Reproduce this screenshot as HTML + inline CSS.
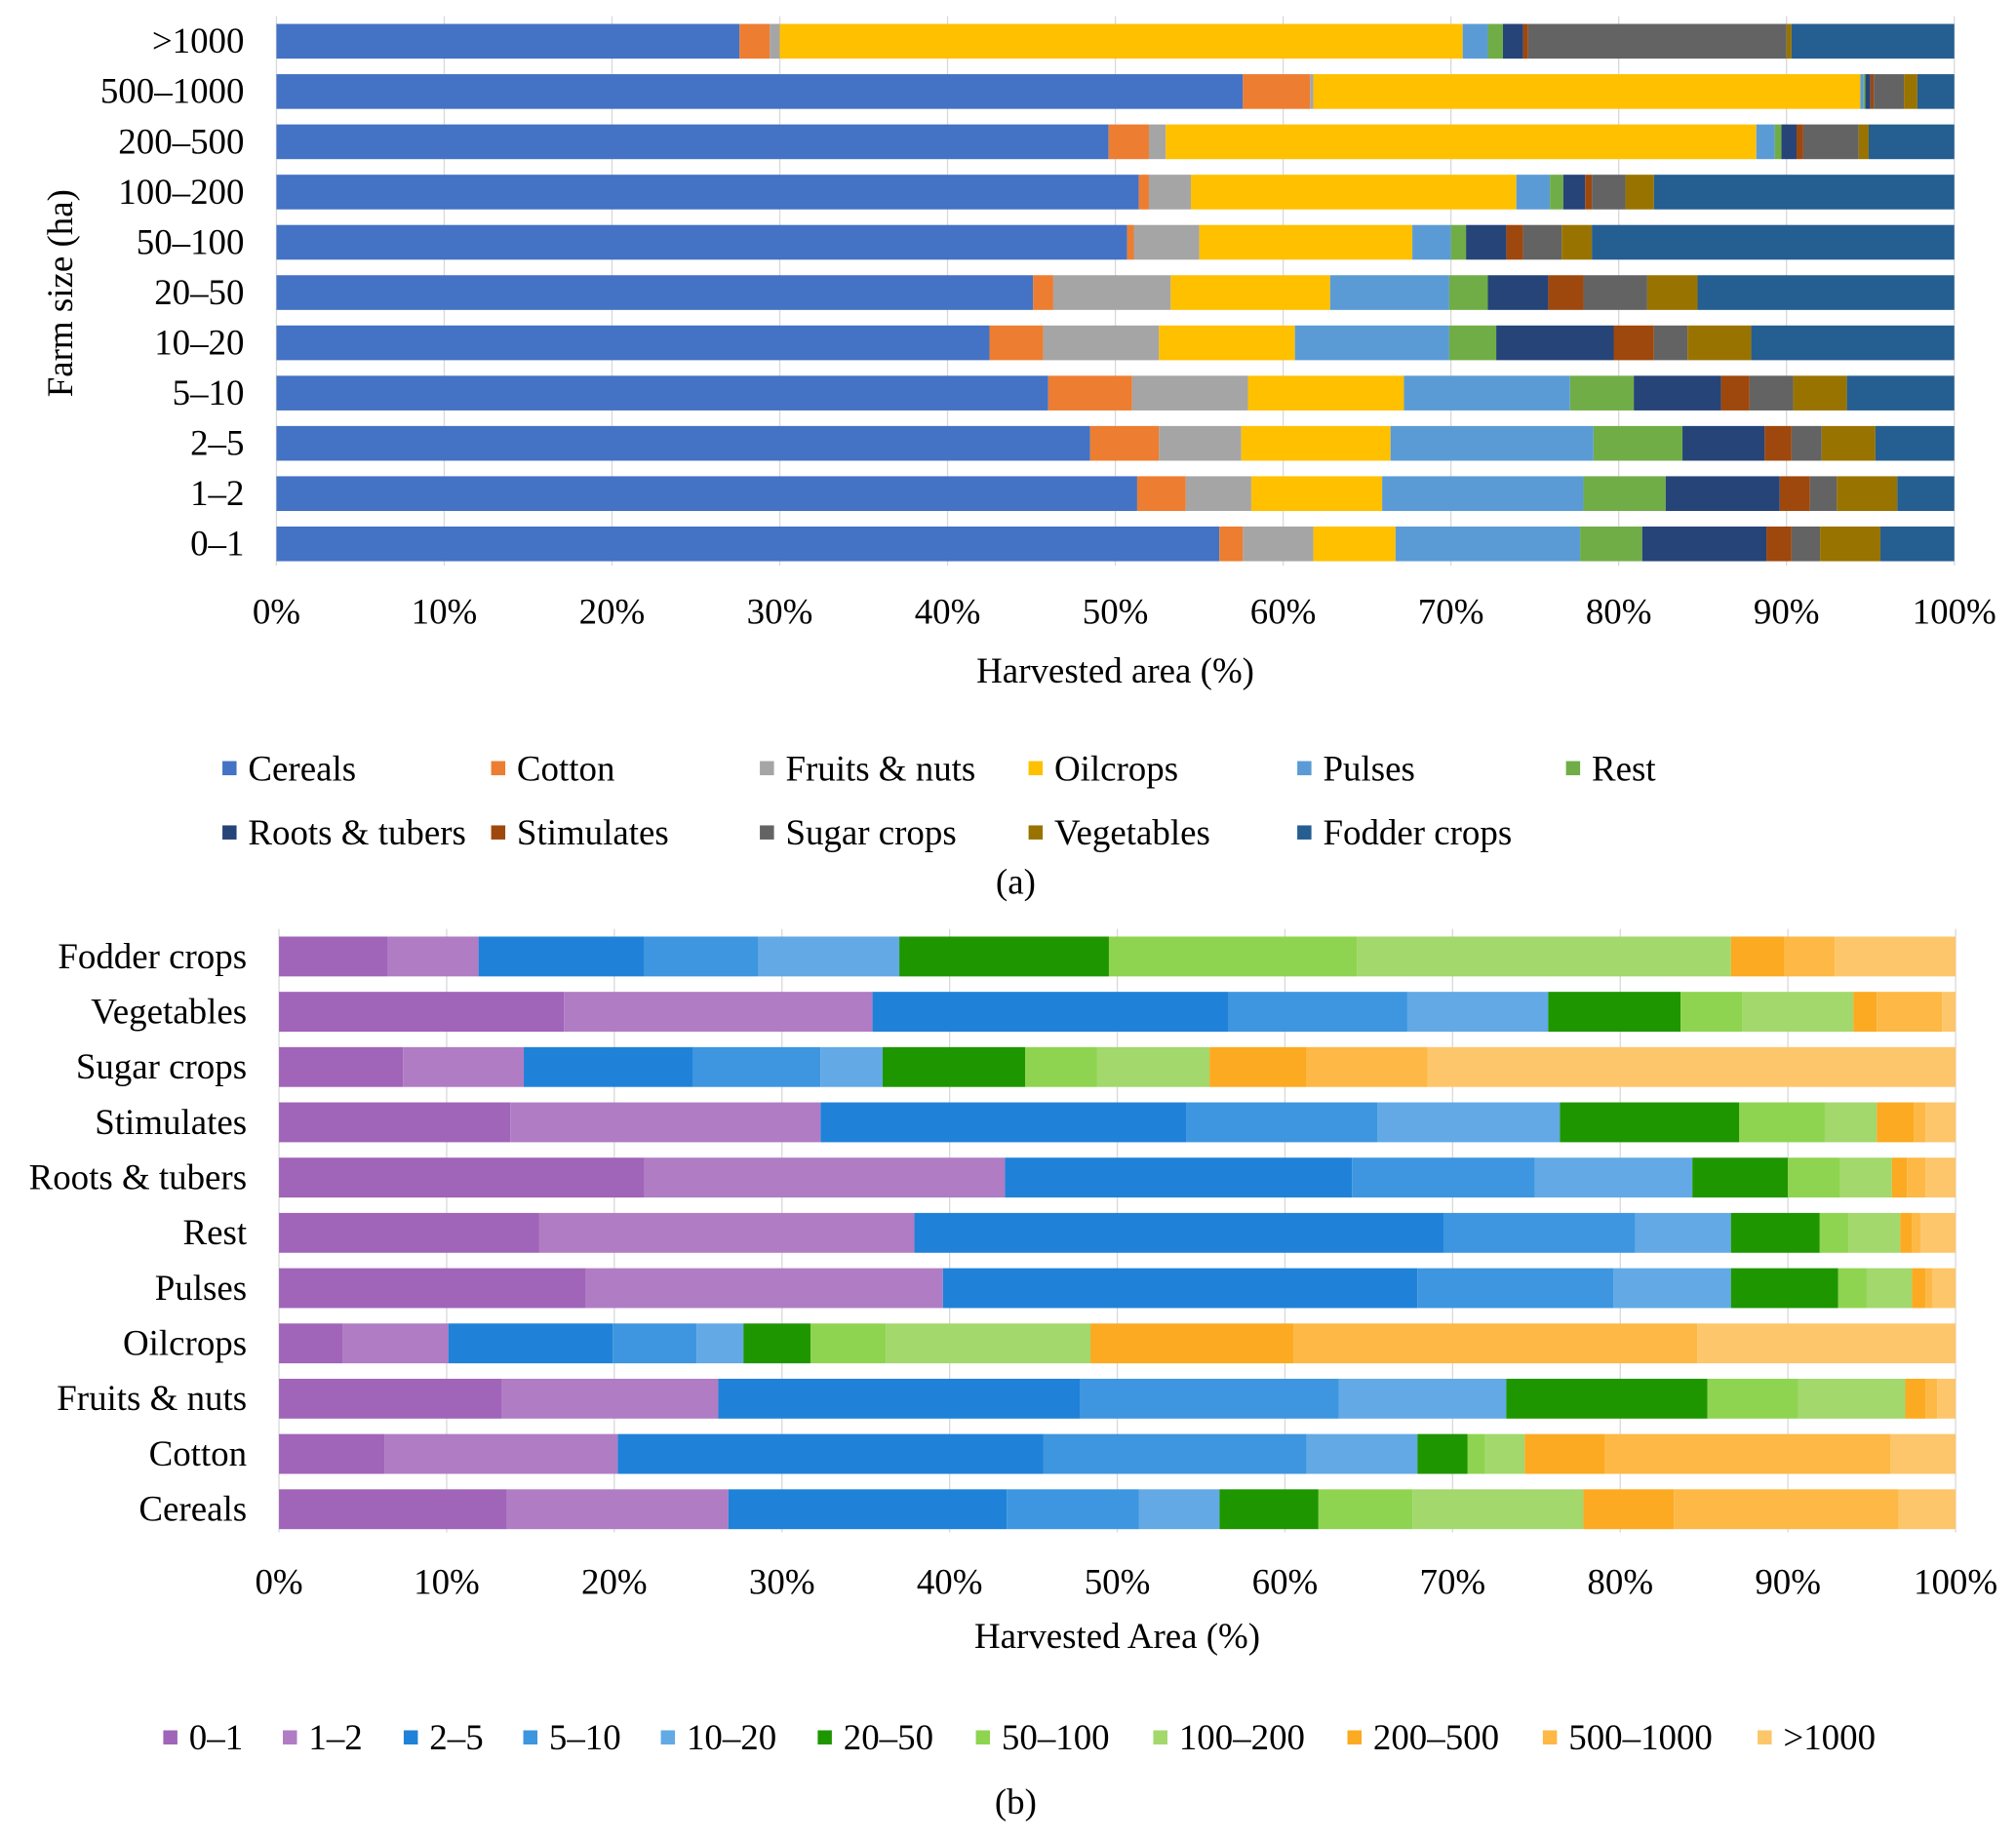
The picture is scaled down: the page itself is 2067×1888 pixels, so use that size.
<!DOCTYPE html>
<html><head><meta charset="utf-8"><style>
html,body{margin:0;padding:0;background:#fff;}
svg{display:block;font-family:"Liberation Serif",serif;}
</style></head><body>
<svg id="chart" width="2067" height="1888" viewBox="0 0 1568 1432" xmlns="http://www.w3.org/2000/svg">
<g id="ga"></g>
<g id="gb"></g>
</svg>
<script>
const NS="http://www.w3.org/2000/svg";
// ---- Chart (a) data ----
const aCategories=[">1000","500–1000","200–500","100–200","50–100","20–50","10–20","5–10","2–5","1–2","0–1"];
const aSeriesNames=["Cereals","Cotton","Fruits & nuts","Oilcrops","Pulses","Rest","Roots & tubers","Stimulates","Sugar crops","Vegetables","Fodder crops"];
const aShares=[
[27.6,1.8,0.6,40.7,1.5,0.9,1.2,0.3,15.4,0.3,9.7],
[57.6,4.0,0.2,32.6,0.2,0.1,0.3,0.2,1.8,0.8,2.2],
[49.6,2.4,1.0,35.2,1.1,0.4,0.9,0.4,3.3,0.6,5.1],
[51.4,0.6,2.5,19.4,2.0,0.8,1.3,0.4,2.0,1.7,17.9],
[50.7,0.4,3.9,12.7,2.3,0.9,2.4,1.0,2.3,1.8,21.6],
[45.1,1.2,7.0,9.5,7.1,2.3,3.6,2.1,3.8,3.0,15.3],
[42.5,3.2,6.9,8.1,9.2,2.8,7.0,2.4,2.0,3.8,12.1],
[46.0,5.0,6.9,9.3,9.9,3.8,5.2,1.7,2.6,3.2,6.4],
[48.5,4.1,4.9,8.9,12.1,5.3,4.9,1.6,1.8,3.2,4.7],
[51.3,2.9,3.9,7.8,12.0,4.9,6.8,1.8,1.6,3.6,3.4],
[56.2,1.4,4.2,4.9,11.0,3.7,7.4,1.5,1.7,3.6,4.4]];
const aColors=["#4472C4","#ED7D31","#A5A5A5","#FFC000","#5B9BD5","#70AD47","#264478","#9E480E","#636363","#997300","#255E91"];
// ---- Chart (b) data: cumulative boundaries (%) ----
const bCategories=["Fodder crops","Vegetables","Sugar crops","Stimulates","Roots & tubers","Rest","Pulses","Oilcrops","Fruits & nuts","Cotton","Cereals"];
const bSeriesNames=["0–1","1–2","2–5","5–10","10–20","20–50","50–100","100–200","200–500","500–1000",">1000"];
const bCumulative=[
[6.5,11.9,21.8,28.6,37.0,49.5,64.3,86.6,89.8,92.8,100],
[17.0,35.4,56.6,67.3,75.7,83.6,87.3,93.9,95.3,99.2,100],
[7.4,14.6,24.7,32.3,36.0,44.5,48.8,55.5,61.3,68.5,100],
[13.8,32.3,54.1,65.5,76.4,87.1,92.2,95.3,97.5,98.2,100],
[21.8,43.3,64.0,74.9,84.3,90.0,93.1,96.2,97.1,98.2,100],
[15.5,37.9,69.5,80.9,86.6,91.9,93.6,96.7,97.4,97.9,100],
[18.3,39.6,67.9,79.6,86.6,93.0,94.7,97.4,98.2,98.6,100],
[3.8,10.1,19.9,24.9,27.7,31.7,36.2,48.4,60.5,84.6,100],
[13.3,26.2,47.8,63.2,73.2,85.2,90.6,97.0,98.2,98.9,100],
[6.3,20.2,45.6,61.3,67.9,70.9,71.9,74.3,79.1,96.1,100],
[13.6,26.8,43.4,51.3,56.1,62.0,67.6,77.8,83.2,96.6,100]];
const bColors=["#A064B8","#B07CC4","#1F82D8","#3D96DF","#62A9E6","#1E9600","#8ED450","#A2D86C","#FBAA22","#FDB845","#FDC66A"];
const ticks=["0%","10%","20%","30%","40%","50%","60%","70%","80%","90%","100%"];
const FS=28;

function mk(p,tag,attrs,txt){const e=document.createElementNS(NS,tag);for(const k in attrs)e.setAttribute(k,attrs[k]);if(txt!==undefined)e.textContent=txt;p.appendChild(e);return e;}

function drawChart(g,cfg){
  const xs=v=>cfg.x0+(cfg.x1-cfg.x0)*v/100;
  const ys=i=>cfg.yTop+i*cfg.step;
  for(let t=0;t<=10;t++){
    const gl=mk(g,"line",{x1:xs(t*10),x2:xs(t*10),y1:cfg.yTop-cfg.step/2,y2:cfg.axisY,stroke:"#d9d9d9","stroke-width":1});
    
    
    const tl=mk(g,"text",{x:xs(t*10),y:cfg.tickY,"font-size":FS,"text-anchor":"middle"},ticks[t]);
    
    
  }
  cfg.cats.forEach((c,i)=>{
    const cl=mk(g,"text",{x:cfg.x0-25,y:ys(i)+9,"font-size":FS,"text-anchor":"end"},c);
    
    
    const ends=cfg.ends(i);let prev=0;
    ends.forEach((e,s)=>{
      const r=mk(g,"rect",{x:xs(prev),y:ys(i)-cfg.bh/2,width:Math.max(0,xs(e)-xs(prev)),height:cfg.bh,fill:cfg.colors[s]});
      
      
      prev=e;
    });
  });
  const at=mk(g,"text",{x:(cfg.x0+cfg.x1)/2,y:cfg.titleY,"font-size":FS,"text-anchor":"middle"},cfg.title);
  
  
  cfg.legend.forEach((L,s)=>{
    const lr=mk(g,"rect",{x:L[0],y:L[1]-6,width:11,height:11,fill:cfg.colors[s]});
    
    
    const lt=mk(g,"text",{x:L[0]+20,y:L[1]+9,"font-size":FS},cfg.names[s]);
    
    
  });
  const cap=mk(g,"text",{x:790,y:cfg.capY,"font-size":FS,"text-anchor":"middle"},cfg.cap);
  
  
}
const ga=document.getElementById("ga"),gb=document.getElementById("gb");
drawChart(ga,{x0:215,x1:1520,yTop:32,step:39.1,bh:27,axisY:440,tickY:485,titleY:531,cats:aCategories,colors:aColors,names:aSeriesNames,
  ends:i=>{let c=0;return aShares[i].map(v=>(c+=v));},title:"Harvested area (%)",
  legend:[[173,598],[382,598],[591,598],[800,598],[1009,598],[1218,598],[173,648],[382,648],[591,648],[800,648],[1009,648]],cap:"(a)",capY:695});
drawChart(gb,{x0:217,x1:1521,yTop:744,step:43,bh:31,axisY:1192,tickY:1240,titleY:1282,cats:bCategories,colors:bColors,names:bSeriesNames,
  ends:i=>bCumulative[i],title:"Harvested Area (%)",
  legend:[[127,1352],[220,1352],[314,1352],[407,1352],[514,1352],[636,1352],[759,1352],[897,1352],[1048,1352],[1200,1352],[1367,1352]],cap:"(b)",capY:1411});
const yt=mk(ga,"text",{x:0,y:0,"font-size":FS,"text-anchor":"middle",transform:"translate(56,228) rotate(-90)"},"Farm size (ha)");


</script>
</body></html>
